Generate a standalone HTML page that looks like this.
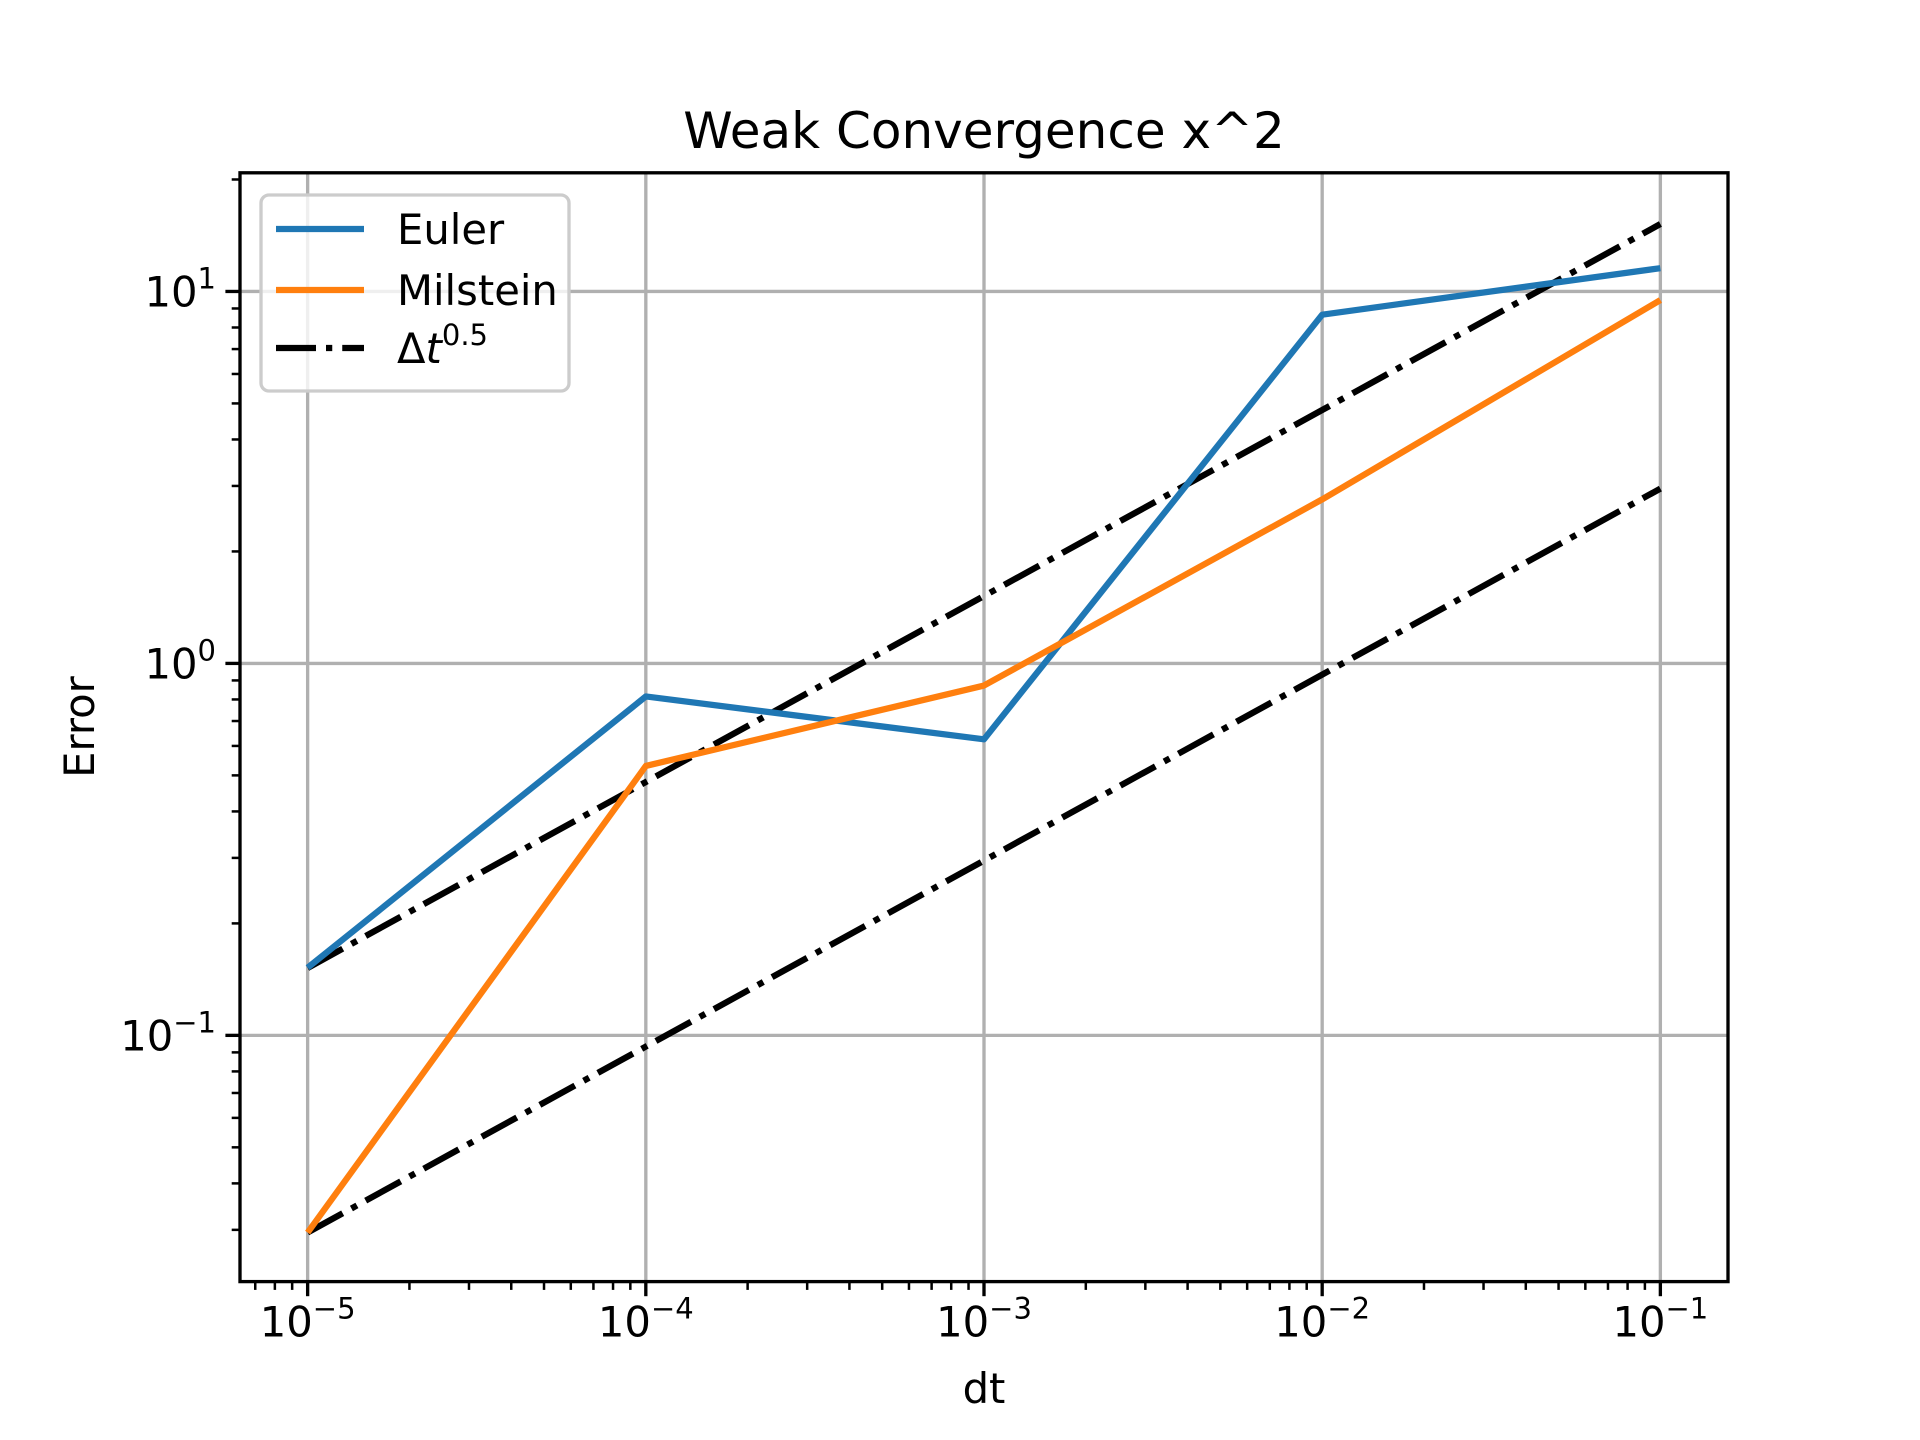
<!DOCTYPE html>
<html><head><meta charset="utf-8"><style>
html,body{margin:0;padding:0;background:#fff;}
svg{display:block;font-family:"DejaVu Sans","Liberation Sans",sans-serif;}
</style></head><body>
<svg id="chart" width="1920" height="1440" viewBox="0 0 1920 1440" xmlns="http://www.w3.org/2000/svg">
<rect x="0" y="0" width="1920" height="1440" fill="#fff"/>
<text x="984" y="148" font-size="50" text-anchor="middle">Weak Convergence x^2</text>
<text x="984" y="1403" font-size="41.7" text-anchor="middle">dt</text>
<text x="94" y="727" font-size="41.7" text-anchor="middle" transform="rotate(-90 94 727)">Error</text>
<g id="grid"></g>
<g id="series"></g>
<rect x="240" y="172.8" width="1488" height="1108.8" fill="none" stroke="#000" stroke-width="3.33"/>
<g id="ticks"></g>
<g id="legend"></g>
</svg>
<script>
const dtValues = [1e-5, 1e-4, 1e-3, 1e-2, 1e-1];
const eulerErr = [0.152, 0.815, 0.625, 8.66, 11.55];
const milsteinErr = [0.0295, 0.53, 0.872, 2.76, 9.48];
const refUpperCoef = 48.0;
const refLowerCoef = 9.33;
const xTickExps = [-5, -4, -3, -2, -1];
const yTickExps = [-1, 0, 1];

const NS = "http://www.w3.org/2000/svg";
const L = 240, R = 1728, T = 172.8, B = 1281.6;
const xMin = -5.2, xMax = -0.8;
const yMin = -1.662, yMax = 1.319;
function xs(v){ return L + (Math.log10(v) - xMin) / (xMax - xMin) * (R - L); }
function ys(v){ return B - (Math.log10(v) - yMin) / (yMax - yMin) * (B - T); }
function mk(tag, attrs, parent){ const e = document.createElementNS(NS, tag); for (const k in attrs) e.setAttribute(k, attrs[k]); parent.appendChild(e); return e; }
const grid = document.getElementById('grid'), ticks = document.getElementById('ticks'), series = document.getElementById('series'), legend = document.getElementById('legend');

xTickExps.forEach(e => {
  const x = xs(Math.pow(10, e));
  const g = mk('line', {x1:x, x2:x, y1:T, y2:B, stroke:'#b0b0b0', 'stroke-width':3.33}, grid);
  
  
  const t = mk('line', {x1:x, x2:x, y1:B, y2:B+14.6, stroke:'#000', 'stroke-width':3.33}, ticks);
  
  
  const lb = mk('text', {x:x, y:B+55, 'font-size':41.7, 'text-anchor':'middle'}, ticks);
  
  
  lb.textContent = '10';
  const sp = mk('tspan', {dy:-18, 'font-size':29}, lb);
  sp.textContent = '\u2212' + Math.abs(e);
});
for (let e = -6; e <= -1; e++) for (let m = 2; m <= 9; m++) {
  const v = m * Math.pow(10, e);
  const lv = Math.log10(v);
  if (lv < xMin || lv > xMax) continue;
  const x = xs(v);
  const t = mk('line', {x1:x, x2:x, y1:B, y2:B+8.3, stroke:'#000', 'stroke-width':2.5}, ticks);
  
  
}
yTickExps.forEach(e => {
  const y = ys(Math.pow(10, e));
  const g = mk('line', {x1:L, x2:R, y1:y, y2:y, stroke:'#b0b0b0', 'stroke-width':3.33}, grid);
  
  
  const t = mk('line', {x1:L-14.6, x2:L, y1:y, y2:y, stroke:'#000', 'stroke-width':3.33}, ticks);
  
  
  const lb = mk('text', {x:L-24, y:y+15, 'font-size':41.7, 'text-anchor':'end'}, ticks);
  
  
  lb.textContent = '10';
  const sp = mk('tspan', {dy:-18, 'font-size':29}, lb);
  sp.textContent = e < 0 ? '\u2212' + Math.abs(e) : String(e);
});
for (let e = -2; e <= 1; e++) for (let m = 2; m <= 9; m++) {
  const v = m * Math.pow(10, e);
  const lv = Math.log10(v);
  if (lv < yMin || lv > yMax) continue;
  const y = ys(v);
  const t = mk('line', {x1:L-8.3, x2:L, y1:y, y2:y, stroke:'#000', 'stroke-width':2.5}, ticks);
  
  
}
function poly(vals, color, dash, name){
  const pts = dtValues.map((d,i) => xs(d) + ',' + ys(vals[i])).join(' ');
  const a = {points:pts, fill:'none', stroke:color, 'stroke-width':6.25, 'stroke-linejoin':'round'};
  if (dash) a['stroke-dasharray'] = dash;
  const p = mk('polyline', a, series);
  
  
}
const refUpper = dtValues.map(d => refUpperCoef * Math.sqrt(d));
const refLower = dtValues.map(d => refLowerCoef * Math.sqrt(d));
poly(refUpper, '#000', '40 10 6.25 10', 'reference-line-upper');
poly(refLower, '#000', '40 10 6.25 10', 'reference-line-lower');
poly(eulerErr, '#1f77b4', null, 'euler-line');
poly(milsteinErr, '#ff7f0e', null, 'milstein-line');

const lbox = mk('rect', {x:261, y:195, width:308, height:196, rx:8, fill:'#fff', 'fill-opacity':0.8, stroke:'#cccccc', 'stroke-width':3.33}, legend);


const entries = [['Euler','#1f77b4',null,229],['Milstein','#ff7f0e',null,290],['ref','#000','40 10 6.25 10',348]];
entries.forEach(en => {
  const a = {x1:276, x2:364, y1:en[3], y2:en[3], stroke:en[1], 'stroke-width':6.25};
  if (en[2]) a['stroke-dasharray'] = en[2];
  const ln = mk('line', a, legend);
  
  
  const tx = mk('text', {x:397, y:en[3]+15, 'font-size':41.7}, legend);
  
  
  if (en[0] === 'ref') {
    tx.textContent = '\u0394';
    const it = mk('tspan', {'font-style':'italic'}, tx); it.textContent = 't';
    const sp = mk('tspan', {dy:-18, 'font-size':29}, tx); sp.textContent = '0.5';
  } else tx.textContent = en[0];
});
</script>
</body></html>
